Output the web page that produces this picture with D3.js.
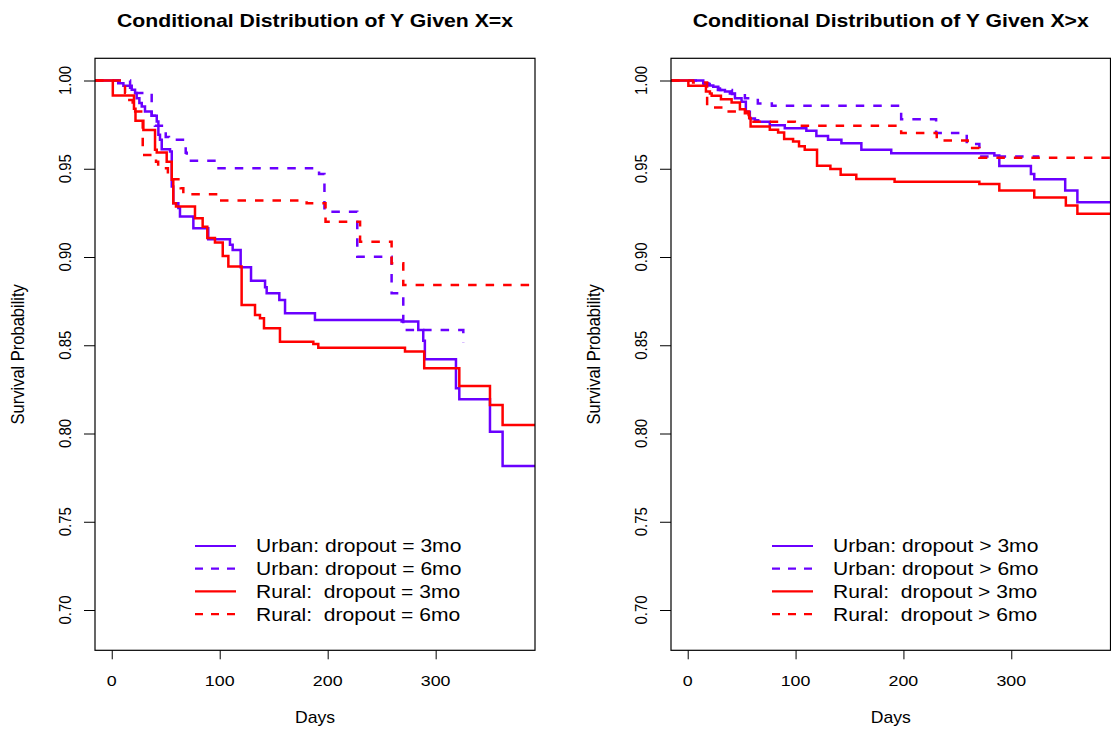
<!DOCTYPE html>
<html lang="en">
  <head>
    <meta charset="UTF-8" />
    <title>Conditional Distribution of Y</title>
    <script src="https://d3js.org/d3.v7.min.js"></script>
    <style>
      body {
        margin: 0;
        background: #ffffff;
      }
      svg text {
        font-family: "Liberation Sans", Arial, Helvetica, sans-serif;
        fill: #000;
        white-space: pre;
      }
    </style>
  </head>
  <body>
    <svg id="chart" width="1111" height="732"></svg>

    <script>
      // ---- data (days, survival probability) ----
      const xTicks = [0, 100, 200, 300];
      const yTicks = [0.7, 0.75, 0.8, 0.85, 0.9, 0.95, 1.0];

      // left panel: Y given X = x
      const urbanEq3 = [[-15.5,1],[6,0.9985],[10.8,0.997],[18.5,0.9947],[21.6,0.9929],[23.1,0.99],[25.6,0.9872],[27.8,0.9853],[30.8,0.9824],[37,0.98],[41.7,0.9768],[43.2,0.9692],[44.7,0.9664],[46.3,0.9611],[54,0.9598],[55.6,0.94],[57,0.9305],[61.7,0.9277],[63.2,0.923],[75.6,0.9163],[89.4,0.91],[109.5,0.9069],[112,0.904],[119.4,0.8942],[129,0.8866],[142,0.8829],[143.5,0.8795],[155.2,0.8757],[160.5,0.8681],[188.2,0.8643],[268.5,0.8634],[283.9,0.8587],[288.5,0.8526],[290,0.842],[318.8,0.8256],[321.9,0.8194],[350.3,0.801],[362,0.7816],[395,0.7816]];
      const urbanEq6 = [[-15.5,1],[17,0.995],[22,0.9929],[37,0.98],[40,0.9743],[50,0.968],[53,0.9664],[68.5,0.959],[69.5,0.9545],[97.2,0.9503],[192,0.947],[197,0.9257],[227.4,0.9002],[259.2,0.8795],[270,0.8587],[325.6,0.8515]];
      const ruralEq3 = [[-15.5,1],[1,0.9915],[20.6,0.984],[22,0.9772],[29.3,0.972],[40.1,0.9607],[41.7,0.9592],[50.9,0.954],[55.6,0.9437],[57,0.9305],[59.5,0.9286],[77.1,0.922],[84.2,0.9172],[88.5,0.9107],[95.6,0.9082],[102.8,0.9006],[108,0.8946],[120.3,0.8728],[132.7,0.8672],[137.3,0.8653],[141,0.8596],[155.8,0.852],[186.7,0.8507],[191.3,0.8486],[271.6,0.8464],[289.4,0.837],[321.9,0.8269],[350.3,0.8161],[362,0.8048],[395,0.8048]];
      const ruralEq6 = [[-15.5,1],[12.3,0.9929],[14,0.989],[19.4,0.9824],[28.7,0.9578],[41,0.954],[43,0.9503],[52,0.944],[63.9,0.939],[66.3,0.9356],[98.7,0.932],[180.5,0.9305],[198,0.92],[230,0.9087],[259.2,0.8965],[270,0.8842],[395,0.8842]];

      // right panel: Y given X > x
      const urbanGt3 = [[-15.5,1],[14.4,0.9985],[19.1,0.9972],[23.7,0.9965],[28.3,0.9955],[29.9,0.9946],[34.5,0.9938],[39.1,0.9927],[43.8,0.99],[49.9,0.988],[53.9,0.9823],[57.6,0.9785],[62.3,0.9775],[65.3,0.9766],[76.1,0.9747],[90,0.9729],[110,0.9716],[119.3,0.9686],[130.1,0.9664],[142.5,0.9645],[161,0.9607],[188.7,0.9588],[284.3,0.9575],[288.9,0.9516],[318.2,0.947],[321.3,0.944],[350,0.9377],[361.3,0.931],[395,0.931]];
      const urbanGt6 = [[-15.5,1],[12,0.998],[28,0.9946],[41,0.9923],[53,0.99],[65,0.987],[78,0.9857],[197.9,0.9781],[230.3,0.9702],[258.7,0.964],[270.4,0.957],[326,0.957]];
      const ruralGt3 = [[-15.5,1],[0.6,0.997],[16.9,0.9937],[20.6,0.9927],[22.2,0.9913],[30.8,0.9894],[40.7,0.9875],[48.4,0.9837],[53,0.9815],[57,0.9787],[58.3,0.974],[76.1,0.9721],[83.8,0.9706],[89.4,0.9668],[97.7,0.9655],[103.2,0.9627],[108.5,0.9608],[119.9,0.9517],[132.3,0.9498],[141.8,0.9466],[156.3,0.9442],[191.8,0.9427],[270.4,0.9413],[288.9,0.9377],[321.3,0.9337],[350.6,0.9292],[361.3,0.9245],[395,0.9245]];
      const ruralGt6 = [[-15.5,1],[5,0.9988],[18,0.9847],[38,0.9824],[56.5,0.9785],[59.5,0.9766],[99.3,0.9743],[197.9,0.9702],[230.9,0.966],[259.6,0.9617],[270.4,0.9563],[395,0.9563]];

      const legendLeft = ["Urban: dropout = 3mo", "Urban: dropout = 6mo", "Rural:  dropout = 3mo", "Rural:  dropout = 6mo"];
      const legendRight = ["Urban: dropout > 3mo", "Urban: dropout > 6mo", "Rural:  dropout > 3mo", "Rural:  dropout > 6mo"];

      const PURPLE = "#6a00ff";
      const RED = "#ff0000";
      const DASH = "8.5,9";

      const svg = d3.select("#chart");

      // text with a slight horizontal stretch, like the source image
      function addText(g, str, x, y, size, opts = {}) {
        const sx = opts.sx || 1.15;
        const rot = opts.rotate || 0;
        return g
          .append("text")
          .attr("transform", `translate(${x},${y}) scale(${sx},1) rotate(${rot})`)
          .attr("text-anchor", opts.anchor || "middle")
          .attr("font-size", size)
          .attr("font-weight", opts.bold ? "bold" : "normal")
          .text(str);
      }

      function drawPanel(cfg) {
        const x = d3.scaleLinear().domain([-15.5, 392]).range([cfg.left, cfg.right]);
        const y = d3.scaleLinear().domain([0.67717, 1.01258]).range([650.3, 58.3]);
        const g = svg.append("g");

        const clipId = "clip-" + cfg.id;
        g.append("clipPath")
          .attr("id", clipId)
          .append("rect")
          .attr("x", cfg.left)
          .attr("y", 58.3)
          .attr("width", cfg.right - cfg.left)
          .attr("height", 650.3 - 58.3);

        // curves
        const line = d3
          .line()
          .x((d) => x(d[0]))
          .y((d) => y(d[1]))
          .curve(d3.curveStepAfter);

        const curves = g.append("g").attr("clip-path", `url(#${clipId})`);
        cfg.series.forEach((s) => {
          curves
            .append("path")
            .datum(s.data)
            .attr("d", line)
            .attr("fill", "none")
            .attr("stroke", s.color)
            .attr("stroke-width", 2.5)
            .attr("stroke-dasharray", s.dashed ? DASH : null);
        });

        // box
        g.append("rect")
          .attr("x", cfg.left)
          .attr("y", 58.3)
          .attr("width", cfg.right - cfg.left)
          .attr("height", 650.3 - 58.3)
          .attr("fill", "none")
          .attr("stroke", "#000")
          .attr("stroke-width", 1.2);

        // x axis
        const xAxis = g
          .append("g")
          .attr("transform", "translate(0,650.3)")
          .call(d3.axisBottom(x).tickValues(xTicks).tickSize(9).tickFormat(""));
        xAxis.select(".domain").remove();
        xTicks.forEach((t) => addText(g, String(t), x(t), 685.5, 15.5));

        // y axis
        const yAxis = g
          .append("g")
          .attr("transform", `translate(${cfg.left},0)`)
          .call(d3.axisLeft(y).tickValues(yTicks).tickSize(11).tickFormat(""));
        yAxis.select(".domain").remove();
        yTicks.forEach((t) =>
          addText(g, d3.format(".2f")(t), cfg.left - 24.3, y(t), 15, { rotate: -90 })
        );

        // titles
        const cx = (cfg.left + cfg.right) / 2;
        addText(g, cfg.title, cx, 26.5, 18, { bold: true, sx: 1.18 });
        addText(g, "Days", cx, 722.7, 16, { sx: 1.1 });
        addText(g, "Survival Probability", cfg.left - 71, 354.3, 16.5, { rotate: -90 });

        // legend
        cfg.series.forEach((s, i) => {
          const ly = 546 + i * 22.7;
          g.append("line")
            .attr("x1", cfg.legendX)
            .attr("x2", cfg.legendX + 41)
            .attr("y1", ly)
            .attr("y2", ly)
            .attr("stroke", s.color)
            .attr("stroke-width", 2.2)
            .attr("stroke-dasharray", s.dashed ? "8,8" : null);
          addText(g, cfg.legend[i], cfg.legendX + 61, ly + 6.4, 18, { anchor: "start", sx: 1.17 });
        });
      }

      drawPanel({
        id: "left",
        left: 95,
        right: 535,
        legendX: 195,
        title: "Conditional Distribution of Y Given X=x",
        legend: legendLeft,
        series: [
          { data: urbanEq3, color: PURPLE, dashed: false },
          { data: urbanEq6, color: PURPLE, dashed: true },
          { data: ruralEq3, color: RED, dashed: false },
          { data: ruralEq6, color: RED, dashed: true },
        ],
      });

      drawPanel({
        id: "right",
        left: 671,
        right: 1110.5,
        legendX: 772,
        title: "Conditional Distribution of Y Given X>x",
        legend: legendRight,
        series: [
          { data: urbanGt3, color: PURPLE, dashed: false },
          { data: urbanGt6, color: PURPLE, dashed: true },
          { data: ruralGt3, color: RED, dashed: false },
          { data: ruralGt6, color: RED, dashed: true },
        ],
      });
    </script>
  </body>
</html>
